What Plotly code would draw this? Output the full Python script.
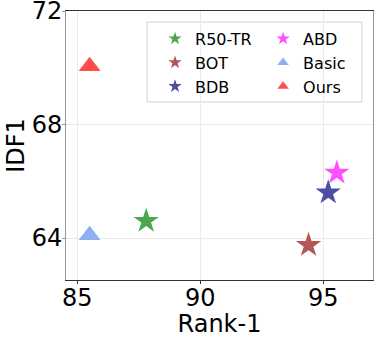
import plotly.graph_objects as go

# Methods and their scores
methods = ['R50-TR', 'BOT', 'BDB', 'ABD', 'Basic', 'Ours']
rank1 = [87.8, 94.4, 95.2, 95.55, 85.5, 85.5]
idf1 = [64.6, 63.75, 65.6, 66.3, 64.1, 70.05]
symbols = ['star', 'star', 'star', 'star', 'triangle-up', 'triangle-up']
colors = ['#4da64d', '#b25656', '#4d4da6', '#ff4dff', '#8fb0f0', '#ff4d4d']
legend_col = ['legend', 'legend', 'legend', 'legend2', 'legend2', 'legend2']

font = 'DejaVu Sans'

fig = go.Figure()
for m, x, y, s, c, lg in zip(methods, rank1, idf1, symbols, colors, legend_col):
    fig.add_trace(go.Scatter(
        x=[x], y=[y], mode='markers', name=m, showlegend=False,
        marker=dict(symbol=s, size=19, color=c, line=dict(width=0)),
    ))
    # small marker just for the legend
    fig.add_trace(go.Scatter(
        x=[None], y=[None], mode='markers', name=m, legend=lg,
        marker=dict(symbol=s, size=10, color=c, line=dict(width=0)),
    ))

legend_style = dict(
    bgcolor='rgba(0,0,0,0)', borderwidth=0,
    font=dict(family=font, size=16, color='black'),
    tracegroupgap=0,
    xanchor='left', yanchor='top',
)

fig.update_layout(
    width=378, height=338,
    margin=dict(l=66, r=5, t=11, b=58, autoexpand=False),
    plot_bgcolor='white', paper_bgcolor='white',
    font=dict(family=font, size=24, color='black'),
    showlegend=True,
    legend=dict(x=0.29, y=0.96, **legend_style),
    legend2=dict(x=0.642, y=0.96, **legend_style),
    shapes=[dict(type='rect', xref='paper', yref='paper',
                 x0=0.264, x1=0.964, y0=0.662, y1=0.959,
                 line=dict(color='#d0d0d0', width=1), fillcolor='rgba(255,255,255,0.8)',
                 layer='below')],
)
fig.update_xaxes(
    range=[84.54, 97.02], tickvals=[85, 90, 95], automargin=False,
    title=dict(text='Rank-1', font=dict(size=24), standoff=0),
    showgrid=True, gridcolor='#ebebeb', gridwidth=1,
    showline=True, linecolor='#333333', linewidth=1, mirror=True,
    ticks='outside', ticklen=3, tickcolor='#333333',
    zeroline=False, tickfont=dict(size=24), ticklabelstandoff=-7,
)
fig.update_yaxes(
    range=[62.52, 72.001], tickvals=[64, 68, 72], automargin=False,
    title=dict(text='IDF1', font=dict(size=24), standoff=0),
    showgrid=True, gridcolor='#ebebeb', gridwidth=1,
    showline=True, linecolor='#999999', linewidth=1, mirror=True,
    ticks='outside', ticklen=3, tickcolor='#999999',
    zeroline=False, tickfont=dict(size=24),
    ticklabeloverflow='allow', ticklabelstandoff=-5,
)

fig.write_html('out.html', config={'displayModeBar': False},
               post_script="document.body.style.margin='0';")
